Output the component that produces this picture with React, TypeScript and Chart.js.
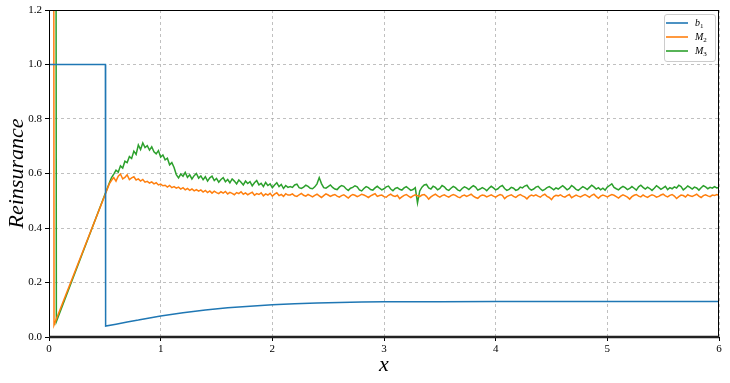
import React, { useEffect, useRef } from "react";
import { Chart, registerables } from "chart.js";

Chart.register(...registerables);

// ---------- data ----------
const X_TICKS = [0, 1, 2, 3, 4, 5, 6];
const Y_TICKS = [0, 0.2, 0.4, 0.6, 0.8, 1.0, 1.2];
const SERIES_LABELS = ["b₁", "M₂", "M₃"];
const SERIES_COLORS = ["#1f77b4", "#ff7f0e", "#2ca02c"];

// b1 (smooth)
const B1_X = [0, 0.505, 0.507, 0.6, 0.7, 0.8, 0.9, 1.0, 1.2, 1.4, 1.6, 1.8, 2.0, 2.2, 2.4, 2.6, 2.8, 3.0, 3.5, 4.0, 5.0, 6.0];
const B1_Y = [1.0, 1.0, 0.04, 0.047, 0.055, 0.062, 0.07, 0.077, 0.089, 0.099, 0.107, 0.113, 0.118, 0.122, 0.125, 0.127, 0.128, 0.129, 0.129, 0.13, 0.13, 0.13];

// M2 start segment
const M2_HEAD_X = [0, 0.045, 0.54];
const M2_HEAD_Y = [30, 0.044, 0.562];
// M3 start segment
const M3_HEAD_X = [0, 0.066, 0.11, 0.54];
const M3_HEAD_Y = [30, 0.056, 0.104, 0.565];

// sampled part: x = 0.56, 0.58, ..., 6.00
const SAMPLE_START = 0.56;
const SAMPLE_STEP = 0.02;

const M2_SAMPLES = [
  0.575, 0.585, 0.572, 0.590, 0.598, 0.580, 0.586, 0.595, 0.578, 0.584,
  0.588, 0.576, 0.580, 0.572, 0.578, 0.568, 0.571, 0.565, 0.569, 0.562,
  0.566, 0.558, 0.561, 0.555, 0.557, 0.550, 0.556, 0.548, 0.552, 0.546,
  0.550, 0.543, 0.548, 0.540, 0.545, 0.538, 0.543, 0.536, 0.541, 0.535,
  0.540, 0.532, 0.538, 0.530, 0.536, 0.528, 0.535, 0.530, 0.526, 0.533,
  0.528, 0.534, 0.525, 0.531, 0.527, 0.522, 0.530, 0.526, 0.533, 0.524,
  0.529, 0.522, 0.527, 0.531, 0.520, 0.526, 0.523, 0.529, 0.518, 0.525,
  0.521, 0.527, 0.517, 0.524, 0.529, 0.519, 0.523, 0.516, 0.526, 0.521,
  0.521, 0.525, 0.518, 0.516, 0.522, 0.527, 0.520, 0.517, 0.523, 0.519,
  0.514, 0.520, 0.524, 0.518, 0.512, 0.519, 0.525, 0.521, 0.516, 0.520,
  0.523, 0.517, 0.513, 0.519, 0.522, 0.516, 0.510, 0.518, 0.523, 0.520,
  0.515, 0.519, 0.524, 0.521, 0.517, 0.512, 0.518, 0.522, 0.526, 0.516,
  0.519, 0.521, 0.515, 0.513, 0.520, 0.524, 0.518, 0.516, 0.520, 0.508,
  0.514, 0.520, 0.523, 0.517, 0.512, 0.518, 0.522, 0.519, 0.515, 0.521,
  0.523, 0.516, 0.506, 0.514, 0.520, 0.524, 0.518, 0.513, 0.519, 0.522,
  0.517, 0.513, 0.519, 0.523, 0.520, 0.514, 0.511, 0.518, 0.521, 0.516,
  0.520, 0.524, 0.517, 0.512, 0.509, 0.517, 0.521, 0.519, 0.514, 0.518,
  0.522, 0.517, 0.513, 0.519, 0.523, 0.520, 0.508, 0.515, 0.519, 0.522,
  0.516, 0.512, 0.519, 0.523, 0.518, 0.514, 0.507, 0.516, 0.521, 0.518,
  0.522, 0.517, 0.513, 0.520, 0.524, 0.516, 0.512, 0.504, 0.515, 0.520,
  0.518, 0.522, 0.516, 0.513, 0.519, 0.523, 0.511, 0.516, 0.521, 0.517,
  0.514, 0.519, 0.523, 0.518, 0.513, 0.520, 0.524, 0.516, 0.509, 0.517,
  0.521, 0.518, 0.514, 0.519, 0.523, 0.520, 0.515, 0.510, 0.517, 0.522,
  0.518, 0.513, 0.506, 0.515, 0.520, 0.523, 0.517, 0.514, 0.521, 0.516,
  0.512, 0.518, 0.522, 0.519, 0.513, 0.516, 0.521, 0.524, 0.518, 0.514,
  0.520, 0.523, 0.517, 0.508, 0.515, 0.521, 0.519, 0.514, 0.522, 0.518,
  0.516, 0.520, 0.524, 0.517, 0.512, 0.519, 0.522, 0.518, 0.515, 0.521,
  0.519, 0.523, 0.520,
];

const M3_SAMPLES = [
  0.585, 0.598, 0.612, 0.605, 0.628, 0.620, 0.645, 0.640, 0.662, 0.655,
  0.682, 0.670, 0.705, 0.688, 0.712, 0.695, 0.702, 0.686, 0.698, 0.680,
  0.672, 0.684, 0.660, 0.668, 0.650, 0.656, 0.632, 0.640, 0.622, 0.596,
  0.584, 0.598, 0.590, 0.604, 0.586, 0.595, 0.580, 0.592, 0.600, 0.583,
  0.591, 0.577, 0.588, 0.572, 0.584, 0.590, 0.574, 0.582, 0.568, 0.578,
  0.585, 0.570, 0.578, 0.566, 0.580, 0.572, 0.562, 0.576, 0.568, 0.558,
  0.572, 0.563, 0.570, 0.555, 0.566, 0.574, 0.558, 0.564, 0.552, 0.567,
  0.556, 0.562, 0.548, 0.558, 0.566, 0.552, 0.560, 0.545, 0.556, 0.549,
  0.552, 0.549, 0.558, 0.561, 0.548, 0.545, 0.550, 0.557, 0.553, 0.546,
  0.544, 0.551, 0.562, 0.585, 0.563, 0.548, 0.546, 0.552, 0.558, 0.549,
  0.543, 0.541, 0.550, 0.556, 0.553, 0.544, 0.538, 0.546, 0.549, 0.555,
  0.551, 0.540, 0.536, 0.545, 0.552, 0.548, 0.541, 0.539, 0.547, 0.553,
  0.546, 0.540, 0.544, 0.551, 0.554, 0.543, 0.537, 0.545, 0.548, 0.542,
  0.539, 0.547, 0.552, 0.545, 0.538, 0.541, 0.548, 0.492, 0.536, 0.550,
  0.558, 0.560, 0.547, 0.543, 0.553, 0.549, 0.540, 0.545, 0.556, 0.551,
  0.542, 0.538, 0.546, 0.553, 0.548, 0.540, 0.536, 0.545, 0.551, 0.547,
  0.541, 0.549, 0.555, 0.550, 0.539, 0.543, 0.548, 0.544, 0.537, 0.546,
  0.553, 0.547, 0.540, 0.544, 0.552, 0.556, 0.545, 0.538, 0.542, 0.549,
  0.546, 0.538, 0.541, 0.550, 0.547, 0.554, 0.557, 0.545, 0.539, 0.543,
  0.550, 0.553, 0.544, 0.537, 0.542, 0.548, 0.552, 0.546, 0.540, 0.547,
  0.543, 0.549, 0.555, 0.548, 0.540, 0.545, 0.556, 0.550, 0.542, 0.538,
  0.545, 0.552, 0.547, 0.541, 0.549, 0.557, 0.551, 0.543, 0.548, 0.540,
  0.546, 0.539, 0.550, 0.556, 0.562, 0.549, 0.544, 0.540, 0.547, 0.553,
  0.548, 0.541, 0.545, 0.552, 0.546, 0.539, 0.551, 0.557, 0.549, 0.543,
  0.550, 0.545, 0.538, 0.546, 0.555, 0.549, 0.542, 0.547, 0.553, 0.541,
  0.548, 0.544, 0.551, 0.547, 0.557, 0.552, 0.540, 0.546, 0.554, 0.549,
  0.543, 0.550, 0.547, 0.539, 0.548, 0.555, 0.551, 0.544, 0.549, 0.546,
  0.552, 0.547, 0.549,
];

// ---------- helpers ----------
type Pt = { x: number; y: number };
function pairs(xs: number[], ys: number[]): Pt[] {
  return xs.map((x, i) => ({ x, y: ys[i] }));
}
function sampled(vals: number[]): Pt[] {
  return vals.map((y, i) => ({ x: +(SAMPLE_START + i * SAMPLE_STEP).toFixed(2), y }));
}

const SERIF = "'Liberation Serif', 'DejaVu Serif', serif";

const framePlugin = {
  id: "frame",
  afterDraw(chart: any) {
    const { ctx, chartArea } = chart;
    const { left, right, top, bottom } = chartArea;
    ctx.save();
    ctx.strokeStyle = "#000";
    ctx.lineWidth = 1;
    ctx.beginPath();
    ctx.moveTo(left, top + 0.5);
    ctx.lineTo(right, top + 0.5);
    ctx.moveTo(right - 0.5, top);
    ctx.lineTo(right - 0.5, bottom);
    ctx.moveTo(left + 0.5, top);
    ctx.lineTo(left + 0.5, bottom);
    ctx.stroke();
    ctx.strokeStyle = "#222";
    ctx.lineWidth = 2.5;
    ctx.beginPath();
    ctx.moveTo(left, bottom);
    ctx.lineTo(right, bottom);
    ctx.stroke();

    // legend (upper right)
    const bw = 51, bh = 47;
    const bx = right - 4 - bw, by = top + 4;
    ctx.fillStyle = "rgba(255,255,255,0.85)";
    ctx.strokeStyle = "#cccccc";
    ctx.lineWidth = 1;
    ctx.beginPath();
    const r = 2.5;
    ctx.moveTo(bx + r + 0.5, by + 0.5);
    ctx.arcTo(bx + bw + 0.5, by + 0.5, bx + bw + 0.5, by + bh + 0.5, r);
    ctx.arcTo(bx + bw + 0.5, by + bh + 0.5, bx + 0.5, by + bh + 0.5, r);
    ctx.arcTo(bx + 0.5, by + bh + 0.5, bx + 0.5, by + 0.5, r);
    ctx.arcTo(bx + 0.5, by + 0.5, bx + bw + 0.5, by + 0.5, r);
    ctx.closePath();
    ctx.fill();
    ctx.stroke();
    chart.data.datasets.forEach((ds: any, i: number) => {
      const yy = by + 9 + i * 14;
      ctx.strokeStyle = ds.borderColor;
      ctx.lineWidth = 1.6;
      ctx.beginPath();
      ctx.moveTo(bx + 2, yy);
      ctx.lineTo(bx + 24, yy);
      ctx.stroke();
      const label: string = ds.label;
      const base = label.slice(0, 1);
      const sub = label.slice(1).replace(/[₀-₉]/g, (c) => String(c.charCodeAt(0) - 0x2080));
      ctx.fillStyle = "#000";
      ctx.textBaseline = "middle";
      ctx.textAlign = "left";
      ctx.font = `italic 10px ${SERIF}`;
      ctx.fillText(base, bx + 31, yy);
      const w = ctx.measureText(base).width;
      ctx.font = `7px ${SERIF}`;
      ctx.fillText(sub, bx + 31 + w, yy + 3);
    });
    ctx.restore();
  },
};

export default function App() {
  const ref = useRef<HTMLCanvasElement | null>(null);
  useEffect(() => {
    if (!ref.current) return;
    const datasets = [
      { label: SERIES_LABELS[0], data: pairs(B1_X, B1_Y) },
      { label: SERIES_LABELS[1], data: [...pairs(M2_HEAD_X, M2_HEAD_Y), ...sampled(M2_SAMPLES)] },
      { label: SERIES_LABELS[2], data: [...pairs(M3_HEAD_X, M3_HEAD_Y), ...sampled(M3_SAMPLES)] },
    ].map((d, i) => ({
      ...d,
      borderColor: SERIES_COLORS[i],
      backgroundColor: SERIES_COLORS[i],
      borderWidth: 1.5,
      pointRadius: 0,
      tension: 0,
      fill: false,
    }));
    const chart = new Chart(ref.current, {
      type: "line",
      data: { datasets },
      options: {
        animation: false,
        responsive: false,
        layout: { padding: { top: 10, right: 11, left: 0, bottom: 0 } },
        plugins: { legend: { display: false }, tooltip: { enabled: false } },
        scales: {
          x: {
            type: "linear",
            min: X_TICKS[0],
            max: X_TICKS[X_TICKS.length - 1],
            afterBuildTicks: (s: any) => {
              s.ticks = X_TICKS.map((v) => ({ value: v }));
            },
            afterFit: (s: any) => {
              s.height = 46;
            },
            ticks: {
              callback: (v: any) => String(v),
              font: { family: SERIF, size: 11 },
              color: "#000",
              padding: 2,
              maxRotation: 0,
            },
            grid: { color: "#b0b0b0", lineWidth: 0.8, tickLength: 4, tickColor: "#000", tickWidth: 1 },
            border: { display: false, dash: [3, 3] },
            title: {
              display: true,
              text: "x",
              font: { family: SERIF, size: 22, style: "italic" },
              color: "#000",
              padding: { top: 0, bottom: 5 },
            },
          },
          y: {
            type: "linear",
            min: Y_TICKS[0],
            max: Y_TICKS[Y_TICKS.length - 1],
            afterBuildTicks: (s: any) => {
              s.ticks = Y_TICKS.map((v) => ({ value: v }));
            },
            afterFit: (s: any) => {
              s.width = 49;
            },
            ticks: {
              callback: (v: any) => Number(v).toFixed(1),
              font: { family: SERIF, size: 11 },
              color: "#000",
              padding: 3,
            },
            grid: { color: "#b0b0b0", lineWidth: 0.8, tickLength: 4, tickColor: "#000", tickWidth: 1 },
            border: { display: false, dash: [3, 3] },
            title: {
              display: true,
              text: "Reinsurance",
              font: { family: SERIF, size: 22, style: "italic" },
              color: "#000",
              padding: { top: 4, bottom: 0 },
            },
          },
        },
      },
      plugins: [framePlugin],
    } as any);
    return () => chart.destroy();
  }, []);
  return (
    <div style={{ position: "fixed", left: 0, top: 0, width: 730, height: 383, background: "#fff" }}>
      <canvas ref={ref} width={730} height={383} />
    </div>
  );
}
